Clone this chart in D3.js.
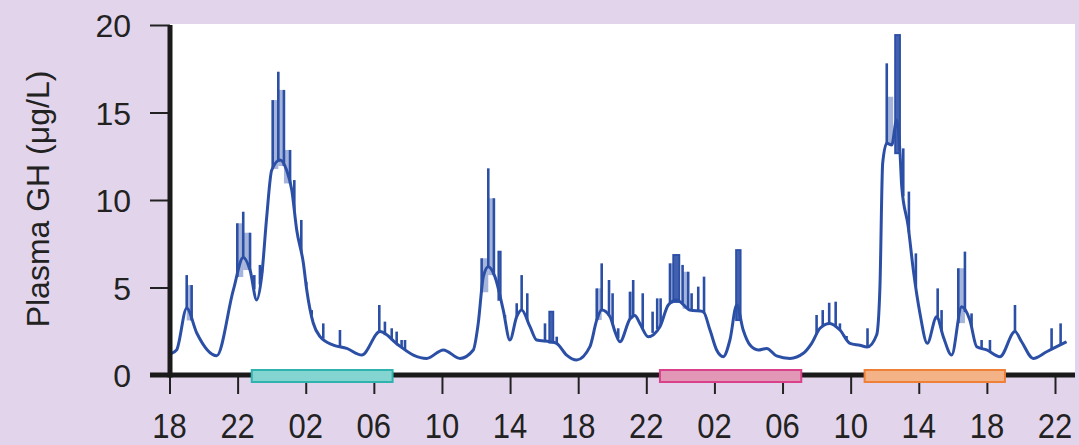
<!DOCTYPE html>
<html><head><meta charset="utf-8">
<script src="https://cdn.jsdelivr.net/npm/d3@7/dist/d3.min.js"></script>
<style>
html,body{margin:0;padding:0;background:#e2d5eb;}
svg{display:block;font-family:"Liberation Sans",Arial,sans-serif;}
</style></head>
<body><svg id="c" width="1079" height="445"></svg>
<script>
// Hours since 18:00 on day 1, plasma GH (µg/L)
const baseHours = [0.13,0.42,1.01,1.6,2.77,3.75,4.33,4.73,5.12,5.41,5.71,6.0,6.49,6.88,7.18,7.47,7.86,8.06,8.44,8.84,9.62,10.41,11.29,12.36,13.44,14.32,15.1,16.08,17.06,17.84,18.13,18.43,18.72,19.11,19.6,19.99,20.39,20.68,21.17,21.56,22.34,22.73,23.32,23.91,24.69,25.09,25.38,25.87,26.16,26.45,27.04,27.33,27.62,28.11,28.8,29.29,29.78,30.56,31.34,31.74,32.13,32.52,32.91,33.31,33.69,34.09,34.57,35.07,35.65,36.44,37.22,37.71,38.2,38.78,39.37,39.96,40.54,40.97,41.53,41.72,41.88,42.12,42.41,42.7,42.9,43.0,43.38,43.68,44.07,44.5,45.05,45.44,45.93,46.52,47.0,47.4,47.99,48.77,49.65,50.04,50.72,51.51,52.1,52.68];
const baseGH    = [1.24,1.43,3.81,2.4,1.1,4.86,6.72,6.0,4.29,5.62,9.05,11.7,12.29,11.7,10.57,8.29,6.4,4.86,2.97,2.19,1.71,1.52,1.14,2.48,1.71,1.14,0.95,1.43,0.95,1.43,2.95,5.62,6.19,5.62,3.71,2.0,3.33,3.71,2.76,2.0,1.9,1.81,1.14,0.86,1.62,3.14,3.71,3.33,2.48,1.9,3.2,3.4,2.95,2.19,2.76,4.0,4.29,3.71,3.62,2.57,1.43,1.05,2.0,4.0,2.57,1.71,1.43,1.52,1.09,0.95,1.24,1.81,2.67,2.95,2.57,1.81,1.7,1.6,2.3,5.05,12.1,13.24,13.14,14.57,12.67,10.76,8.48,6.0,3.52,1.81,3.33,2.19,1.14,3.9,3.14,1.62,1.43,1.05,2.48,1.9,0.95,1.33,1.62,1.9];

// single-sample pulses
const spikeHours = [1.01,1.3,3.98,4.33,4.73,4.98,5.31,5.43,6.06,6.39,6.72,7.08,7.33,7.74,8.03,8.35,9.03,10.01,12.32,12.65,13.05,13.34,13.63,13.83,
  18.33,18.72,19.05,19.7,20.39,20.68,21.01,22.05,22.74,25.09,25.38,25.81,26.02,26.35,27.04,27.23,
  27.79,28.37,28.64,28.84,29.39,30.13,30.46,30.66,31.05,31.39,38.0,38.36,38.74,39.12,39.37,39.76,40.99,
  42.12,43.09,43.42,43.83,45.11,45.34,46.32,46.71,47.1,47.69,48.18,49.65,51.8,52.33];
const spikeGH = [5.71,5.14,8.67,9.33,8.13,5.71,6.29,6.1,15.71,17.33,16.29,12.86,11.14,8.86,5.33,3.71,2.95,2.57,4.0,3.05,2.67,2.48,2.0,2.0,
  6.67,11.81,10.1,3.43,4.1,5.71,4.67,2.95,2.19,4.95,6.38,5.43,4.67,2.67,4.76,5.43,
  4.67,3.62,4.38,4.38,6.38,6.29,5.9,4.67,5.05,5.62,3.43,3.71,4.13,4.19,2.95,2.23,2.67,
  17.81,12.95,10.48,6.95,4.95,3.71,6.1,7.05,3.52,2.0,2.0,4.0,2.67,2.95];

// sustained pulses (several consecutive samples)
const blockStart = [19.31,22.3,29.58,33.27,42.61];
const blockEnd   = [19.45,22.54,29.94,33.54,42.9];
const blockGH    = [7.05,3.62,6.86,7.14,19.43];

// intervals between neighbouring samples (lighter shading)
const shadeStart = [1.01,3.98,4.33,6.06,6.39,6.72,18.33,18.72,25.09,29.39,30.13,42.12,42.31,46.32,27.04];
const shadeEnd   = [1.3,4.33,4.73,6.39,6.72,7.08,18.72,19.05,25.38,29.58,30.46,42.31,42.5,46.71,27.23];
const shadeGH    = [5.14,8.67,8.13,15.71,16.29,12.86,6.67,10.1,4.95,6.38,5.9,15.9,15.9,6.1,4.76];

const tickHours  = [0,4,8,12,16,20,24,28,32,36,40,44,48,52];
const tickLabels = ["18","22","02","06","10","14","18","22","02","06","10","14","18","22"];
const yTicks = [0,5,10,15,20];

// sleep / condition periods
const periodStart = [4.83,28.8,40.82];
const periodEnd   = [13.1,37.1,49.06];
const periodFill   = ["#84d4d1","#e397b7","#f4b387"];
const periodStroke = ["#2fb3ae","#d9418a","#ee8038"];

const svg = d3.select("#c");
const x = d3.scaleLinear().domain([0,52]).range([169.5,1055]);
const y = d3.scaleLinear().domain([0,20]).range([375,25]);
const blue = "#2c4fa6";

// white plot panel
svg.append("rect").attr("x",x(0)).attr("y",y(20)-1).attr("width",1075-x(0)).attr("height",y(0)-y(20)+1).attr("fill","#fff");

const baseAt = h => {
  const i = Math.max(1, Math.min(baseHours.length-1, d3.bisectLeft(baseHours, h)));
  const t = (h-baseHours[i-1])/(baseHours[i]-baseHours[i-1]);
  return baseGH[i-1] + Math.max(0,Math.min(1,t))*(baseGH[i]-baseGH[i-1]);
};

const g = svg.append("g");
// light shading between neighbouring pulse samples
g.selectAll("rect.sh").data(shadeStart).join("rect").attr("class","sh")
  .attr("x",d=>x(d)).attr("width",(d,i)=>x(shadeEnd[i])-x(d))
  .attr("y",(d,i)=>y(shadeGH[i])).attr("height",(d,i)=>Math.max(0,y(Math.min(baseAt(d),baseAt(shadeEnd[i])))-y(shadeGH[i])))
  .attr("fill","#5b76bd").attr("fill-opacity",0.55);
// blocks
g.selectAll("rect.blk").data(blockStart).join("rect").attr("class","blk")
  .attr("x",d=>x(d)).attr("width",(d,i)=>x(blockEnd[i])-x(d))
  .attr("y",(d,i)=>y(blockGH[i])).attr("height",(d,i)=>y(Math.min(baseAt(d),baseAt(blockEnd[i])))-y(blockGH[i]))
  .attr("fill",blue).attr("fill-opacity",0.9).attr("stroke",blue).attr("stroke-width",1.8);
// spikes
g.selectAll("line.sp").data(spikeHours).join("line").attr("class","sp")
  .attr("x1",d=>x(d)).attr("x2",d=>x(d))
  .attr("y1",d=>y(baseAt(d))).attr("y2",(d,i)=>y(spikeGH[i]))
  .attr("stroke",blue).attr("stroke-width",2.6);
// smooth trace
const pts = baseHours.map((h,i)=>[h,baseGH[i]]);
g.append("path").datum(pts)
  .attr("d",d3.line().x(d=>x(d[0])).y(d=>y(d[1])).curve(d3.curveMonotoneX))
  .attr("fill","none").attr("stroke",blue).attr("stroke-width",3).attr("stroke-linejoin","round");

// axes
const yAxis = svg.append("g").attr("transform","translate(170,0)")
  .call(d3.axisLeft(y).tickValues(yTicks).tickSize(20).tickPadding(19));
yAxis.select(".domain").remove();
yAxis.selectAll("line").attr("stroke","#222").attr("stroke-width",2);
yAxis.selectAll("text").attr("font-size",32).attr("fill","#222").attr("font-family","Liberation Sans, Arial, sans-serif").attr("dy","0.36em");

const xAxis = svg.append("g").attr("transform","translate(0,376)")
  .call(d3.axisBottom(x).tickValues(tickHours).tickSize(18).tickFormat(""));
xAxis.select(".domain").remove();
xAxis.selectAll("line").attr("stroke","#222").attr("stroke-width",2);

svg.append("g").selectAll("text").data(tickHours).join("text")
  .attr("transform",d=>`translate(${x(d)},438) scale(1,1.14)`)
  .attr("text-anchor","middle").attr("font-size",31).attr("fill","#222")
  .text((d,i)=>tickLabels[i]);

// thick axis lines
svg.append("line").attr("x1",150).attr("x2",1075).attr("y1",y(0)).attr("y2",y(0)).attr("stroke","#1a1a1a").attr("stroke-width",5);
svg.append("line").attr("x1",170).attr("x2",170).attr("y1",y(20)).attr("y2",y(0)+2.5).attr("stroke","#1a1a1a").attr("stroke-width",5);

// period bars
svg.append("g").selectAll("rect").data(periodStart).join("rect")
  .attr("x",d=>x(d)).attr("width",(d,i)=>x(periodEnd[i])-x(d))
  .attr("y",370).attr("height",12)
  .attr("fill",(d,i)=>periodFill[i]).attr("stroke",(d,i)=>periodStroke[i]).attr("stroke-width",2);

// y label
svg.append("text").attr("transform","translate(49,199) rotate(-90)")
  .attr("text-anchor","middle").attr("font-size",32).attr("fill","#222")
  .text("Plasma GH (μg/L)");
</script></body></html>
